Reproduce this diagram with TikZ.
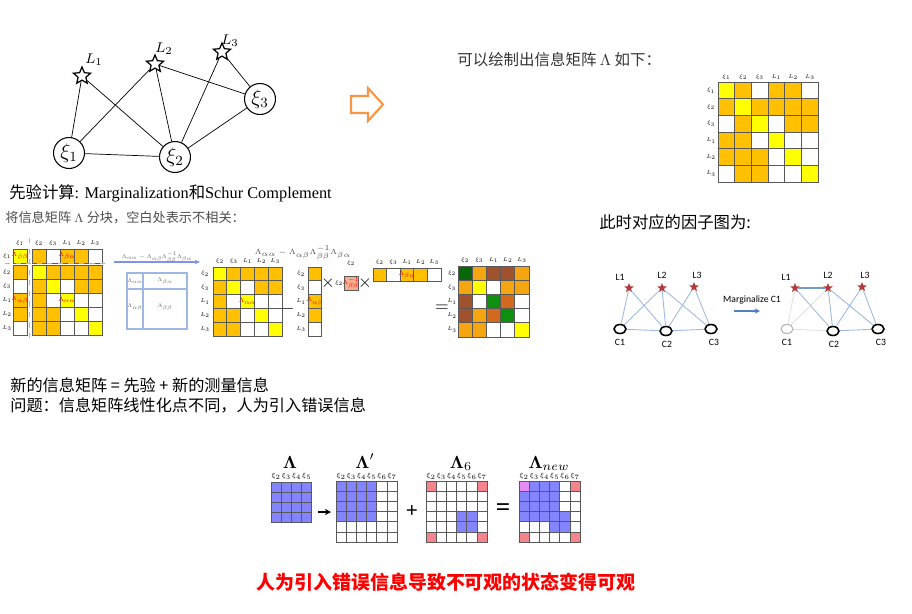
\documentclass[tikz,border=0pt]{standalone}
\usepackage{amsmath}
\usepackage{amssymb}
\usepackage{fontspec}
\usepackage{tikz}
\usetikzlibrary{shapes.geometric,arrows.meta}
\setmainfont{Liberation Serif}
\newfontfamily\cjk{Noto Sans CJK SC}
\newfontfamily\carl{Carlito}

\definecolor{yel}{HTML}{FFFF00}
\definecolor{ora}{HTML}{FFC000}
\definecolor{orb}{HTML}{F5A50F}
\definecolor{wht}{HTML}{FFFFFF}
\definecolor{dgr}{HTML}{0B650B}
\definecolor{grn}{HTML}{0E8F0E}
\definecolor{brn}{HTML}{A0522D}
\definecolor{dor}{HTML}{D2691E}
\definecolor{blu}{HTML}{8484FF}
\definecolor{pnk}{HTML}{F4858F}
\definecolor{vio}{HTML}{E38CF4}
\definecolor{sal}{HTML}{F7AE8E}
\definecolor{arrorange}{HTML}{F79646}
\definecolor{starred}{HTML}{B23A3A}
\definecolor{fblue}{HTML}{9DB8E2}
\definecolor{mblue}{HTML}{4F81BD}

\tikzset{
  gridline/.style={draw=black!65, line width=0.55pt},
  hdr/.style={font=\tiny, scale=0.62, inner sep=0pt},
  redlab/.style={font=\tiny, text=red, scale=0.7, inner sep=0pt},
  mtitle/.style={inner sep=0pt, anchor=base},
  pose/.style={circle, draw, line width=0.6pt, minimum size=0.62cm, inner sep=0pt, font=\large},
  lmk/.style={star, star points=5, star point ratio=2.2, draw, line width=0.7pt, fill=white, minimum size=0.36cm, inner sep=0pt},
  fstar/.style={star, star points=5, star point ratio=2.3, fill=starred, minimum size=0.2cm, inner sep=0pt},
  fcam/.style={ellipse, draw, line width=0.9pt, minimum width=0.24cm, minimum height=0.18cm, inner sep=0pt},
  fedge/.style={draw=fblue, line width=0.5pt},
  fgone/.style={draw=black!12, line width=0.5pt},
  flab/.style={font=\carl\fontsize{5.5}{6}\selectfont, inner sep=0pt}
}

% colour grid: left x, top y, cell size, rows of colours
\newcommand{\cellgrid}[4]{%
  \foreach \cellrow [count=\ri] in {#4} {
    \foreach \cellcol [count=\ci] in \cellrow {
      \draw[gridline, fill=\cellcol] ({#1+(\ci-1)*#3},{#2+(\ri-1)*#3}) rectangle ++(#3,#3);
    }
  }%
}

\begin{document}
\begin{tikzpicture}[x=0.02cm, y=-0.02cm]
\useasboundingbox (0,0) rectangle (912,613);

%% graph at top left
\node[pose] (x1) at (69,153) {$\xi_1$};
\node[pose] (x2) at (175,157) {$\xi_2$};
\node[pose] (x3) at (260,99) {$\xi_3$};
\node[lmk] (l1) at (82,76) {};
\node[lmk] (l2) at (155,64) {};
\node[lmk] (l3) at (222,52) {};
\node[font=\footnotesize] (l1t) at (94,60) {$L_1$};
\node[font=\footnotesize] (l2t) at (164,49) {$L_2$};
\node[font=\footnotesize] (l3t) at (230,41) {$L_3$};
\draw[line width=0.4pt] (l1) -- (x1);
\draw[line width=0.4pt] (l1) -- (x2);
\draw[line width=0.4pt] (l2) -- (x1);
\draw[line width=0.4pt] (l2) -- (x2);
\draw[line width=0.4pt] (l2) -- (x3);
\draw[line width=0.4pt] (l3) -- (x2);
\draw[line width=0.4pt] (l3) -- (x3);
\draw[line width=0.4pt] (x1) -- (x2);
\draw[line width=0.4pt] (x2) -- (x3);

% hollow arrow
\draw[arrorange, line width=1.2pt, fill=white, line join=miter]
  (351,96) -- (368,96) -- (368,88) -- (383,104.5) -- (368,121) -- (368,113) -- (351,113) -- cycle;

%% texts
\node[anchor=west, font=\fontsize{9.3}{11}\selectfont, inner sep=0pt] (tschur) at (9,193)
  {{\cjk 先验计算}: Marginalization{\cjk 和}Schur Complement};
\node[anchor=west, text=black!70, font=\cjk\fontsize{7.5}{9}\selectfont, inner sep=0pt] (tsplit) at (5,218)
  {将信息矩阵 $\Lambda$ 分块，空白处表示不相关：};
\node[anchor=west, text=black!80, font=\cjk\fontsize{8.8}{10}\selectfont, inner sep=0pt] (tdraw) at (457,60)
  {可以绘制出信息矩阵 $\Lambda$ 如下：};
\node[anchor=west, font=\cjk\fontsize{9.3}{11}\selectfont, inner sep=0pt] (tfactor) at (599,222)
  {此时对应的因子图为:};

%% full information matrix (top right)
\cellgrid{718}{82}{16.7}{{yel,ora,wht,ora,ora,wht},{ora,yel,ora,ora,ora,ora},{wht,ora,yel,wht,ora,ora},{ora,ora,wht,yel,wht,wht},{ora,ora,ora,wht,yel,wht},{wht,ora,ora,wht,wht,yel}}
\foreach \lab [count=\j] in {\xi_1,\xi_2,\xi_3,L_1,L_2,L_3} {
  \node[hdr] (tc\j) at ({718+8.35+(\j-1)*16.7},77) {$\lab$};
  \node[hdr] (tr\j) at (711,{82+8.35+(\j-1)*16.7}) {$\lab$};
}

%% factor graph before marginalization
\node[fstar] (fl1) at (629,288) {};
\node[fstar] (fl2) at (662,288) {};
\node[fstar] (fl3) at (694,287) {};
\node[fcam] (fc1) at (620,329) {};
\node[fcam] (fc2) at (666,331) {};
\node[fcam] (fc3) at (711,329) {};
\foreach \a/\b in {fl1/fc1,fl1/fc2,fl2/fc1,fl2/fc2,fl2/fc3,fl3/fc2,fl3/fc3,fc1/fc2,fc2/fc3}
  \draw[fedge] (\a) -- (\b);
\node[flab] (fl1t) at (620,277) {L1};
\node[flab] (fl2t) at (662,275) {L2};
\node[flab] (fl3t) at (697,275) {L3};
\node[flab] (fc1t) at (620,342) {C1};
\node[flab] (fc2t) at (667,344) {C2};
\node[flab] (fc3t) at (714,342) {C3};

% marginalize arrow
\node[flab] (margt) at (752,300) {Marginalize C1};
\coordinate (ma) at (734,311);
\coordinate (mb) at (760,311);
\draw[mblue, line width=1.1pt, -{Stealth[length=3pt,width=3pt]}] (ma) -- (mb);

%% factor graph after marginalization
\node[fstar] (gl1) at (795,288) {};
\node[fstar] (gl2) at (828,288) {};
\node[fstar] (gl3) at (862,287) {};
\node[fcam, draw=black!30, line width=0.6pt] (gc1) at (787,329) {};
\node[fcam] (gc2) at (833,331) {};
\node[fcam] (gc3) at (878,329) {};
\foreach \a/\b in {gl1/gc1,gl2/gc1,gc1/gc2}
  \draw[fgone] (\a) -- (\b);
\foreach \a/\b in {gl1/gc2,gl2/gc2,gl2/gc3,gl3/gc2,gl3/gc3,gc2/gc3}
  \draw[fedge] (\a) -- (\b);
\draw[mblue!80, line width=1.3pt] (gl1) -- (gl2);
\node[flab] (gl1t) at (786,277) {L1};
\node[flab] (gl2t) at (828,275) {L2};
\node[flab] (gl3t) at (865,275) {L3};
\node[flab] (gc1t) at (787,342) {C1};
\node[flab] (gc2t) at (834,344) {C2};
\node[flab] (gc3t) at (881,342) {C3};

%% split information matrix
\cellgrid{13}{249}{14}{{yel}}
\cellgrid{32}{249}{14}{{ora,wht,ora,ora,wht}}
\cellgrid{13}{265}{14}{{ora},{wht},{ora},{ora},{wht}}
\cellgrid{32}{265}{14}{{yel,ora,ora,ora,ora},{ora,yel,wht,ora,ora},{ora,wht,yel,wht,wht},{ora,ora,wht,yel,wht},{ora,ora,wht,wht,yel}}
\draw[fblue, dashed, line width=0.8pt] (5,263.5) -- (108,263.5);
\draw[fblue, dashed, line width=0.8pt] (29.5,238) -- (29.5,340);
\node[hdr] (sc1) at (20,243) {$\xi_1$};
\node[hdr] (sr1) at (7,256) {$\xi_1$};
\foreach \lab [count=\j] in {\xi_2,\xi_3,L_1,L_2,L_3} {
  \node[hdr] (sc\j) at ({39+(\j-1)*14},243) {$\lab$};
  \node[hdr] (sr\j) at (7,{272+(\j-1)*14}) {$\lab$};
}
\node[redlab] (sbb) at (20,256) {$\Lambda_{\beta\beta}$};
\node[redlab] (sba) at (67,256) {$\Lambda_{\beta\alpha}$};
\node[redlab] (sab) at (20,300) {$\Lambda_{\alpha\beta}$};
\node[redlab] (saa) at (67,300) {$\Lambda_{\alpha\alpha}$};

% schur arrow and block sketch
\coordinate (sa) at (114,262);
\coordinate (sb) at (200,262);
\draw[fblue!80!blue, line width=0.6pt, -{Stealth[length=3pt,width=2.5pt]}] (sa) -- (sb);
\node[hdr, text=black!60] (stxt) at (157,257) {$\Lambda_{\alpha\alpha}-\Lambda_{\alpha\beta}\Lambda_{\beta\beta}^{-1}\Lambda_{\beta\alpha}$};
\draw[fblue, line width=0.6pt] (127,273) rectangle (187,329);
\draw[fblue, line width=0.6pt] (143,273) -- (143,329);
\draw[fblue, line width=0.6pt] (127,289) -- (187,289);
\node[hdr, text=black!60] (q1) at (135,281) {$\Lambda_{\alpha\alpha}$};
\node[hdr, text=black!60] (q2) at (165,281) {$\Lambda_{\beta\alpha}$};
\node[hdr, text=black!60] (q3) at (135,307) {$\Lambda_{\alpha\beta}$};
\node[hdr, text=black!60] (q4) at (165,307) {$\Lambda_{\beta\beta}$};

%% schur complement terms
\node[font=\tiny, scale=0.85, inner sep=0pt, text=black!70] (btitle) at (303,253) {$\Lambda_{\alpha\alpha}-\Lambda_{\alpha\beta}\Lambda_{\beta\beta}^{-1}\Lambda_{\beta\alpha}$};
\cellgrid{213}{267}{13.8}{{yel,ora,ora,ora,ora},{ora,yel,wht,ora,ora},{ora,wht,yel,wht,wht},{ora,ora,wht,yel,wht},{ora,ora,wht,wht,yel}}
\foreach \lab [count=\j] in {\xi_2,\xi_3,L_1,L_2,L_3} {
  \node[hdr] (bc\j) at ({219.9+(\j-1)*13.8},261) {$\lab$};
  \node[hdr] (br\j) at (205,{273.9+(\j-1)*13.8}) {$\lab$};
  \node[hdr] (vr\j) at (301,{273.9+(\j-1)*13.8}) {$\lab$};
  \node[hdr] (hc\j) at ({379.8+(\j-1)*13.6},262) {$\lab$};
  \node[hdr] (rc\j) at ({465.1+(\j-1)*14.2},260) {$\lab$};
  \node[hdr] (rr\j) at (452,{273.1+(\j-1)*14.2}) {$\lab$};
}
\node[redlab] (baa) at (247.5,301.5) {$\Lambda_{\alpha\alpha}$};
\node[font=\normalsize, inner sep=0pt] (minus) at (288,309) {$-$};
\cellgrid{308}{267}{13.8}{{ora},{wht},{ora},{ora},{wht}}
\node[redlab] (vab) at (314.9,301.5) {$\Lambda_{\alpha\beta}$};
\node[font=\normalsize, inner sep=0pt] (times1) at (328,283) {$\times$};
\node[hdr] (kx) at (339,283) {$\xi_2$};
\node[hdr] (kc) at (351,263) {$\xi_2$};
\draw[gridline, fill=sal] (344,276) rectangle (358,290);
\node[redlab] (kinv) at (351,283) {$\Lambda_{\beta\beta}^{-1}$};
\node[font=\normalsize, inner sep=0pt] (times2) at (365,283) {$\times$};
\cellgrid{373}{268}{13.6}{{ora,wht,ora,ora,wht}}
\node[redlab] (hba) at (407,274.8) {$\Lambda_{\beta\alpha}$};
\node[font=\normalsize, inner sep=0pt] (eq1) at (442,308) {$=$};
\cellgrid{458}{266}{14.2}{{dgr,orb,brn,brn,orb},{orb,yel,wht,orb,orb},{brn,wht,grn,dor,wht},{brn,orb,dor,grn,wht},{orb,orb,wht,wht,yel}}

%% text lines
\node[anchor=west, font=\cjk\fontsize{9.2}{11}\selectfont, inner sep=0pt] (tnew) at (10,385)
  {新的信息矩阵 = 先验 + 新的测量信息};
\node[anchor=west, font=\cjk\fontsize{9.2}{11}\selectfont, inner sep=0pt] (tprob) at (10,405)
  {问题：信息矩阵线性化点不同，人为引入错误信息};

%% bottom matrices
\node[mtitle] (nl) at (290,468) {$\boldsymbol{\Lambda}$};
\cellgrid{271}{482}{10.2}{{blu,blu,blu,blu},{blu,blu,blu,blu},{blu,blu,blu,blu},{blu,blu,blu,blu}}
\foreach \lab [count=\j] in {\xi_2,\xi_3,\xi_4,\xi_5}
  \node[hdr, scale=1.2] (nlc\j) at ({276.1+(\j-1)*10.2},476) {$\lab$};
\coordinate (pa) at (318,512);
\coordinate (pb) at (331,512);
\draw[line width=1pt, -{Stealth[length=3.5pt,width=3.5pt]}] (pa) -- (pb);

\node[mtitle] (np) at (365,468) {$\boldsymbol{\Lambda}'$};
\cellgrid{336}{481}{10.2}{{blu,blu,blu,blu,wht,wht},{blu,blu,blu,blu,wht,wht},{blu,blu,blu,blu,wht,wht},{blu,blu,blu,blu,wht,wht},{wht,wht,wht,wht,wht,wht},{wht,wht,wht,wht,wht,wht}}
\node[font=\large\bfseries, inner sep=0pt] (plus) at (412,512) {+};

\node[mtitle] (n6) at (461,468) {$\boldsymbol{\Lambda}_6$};
\cellgrid{426}{481}{10.2}{{pnk,wht,wht,wht,wht,pnk},{wht,wht,wht,wht,wht,wht},{wht,wht,wht,wht,wht,wht},{wht,wht,wht,blu,blu,wht},{wht,wht,wht,blu,blu,wht},{pnk,wht,wht,wht,wht,pnk}}
\node[font=\Large\bfseries, inner sep=0pt] (eq2) at (503,510) {=};

\node[mtitle] (nn) at (549,468) {$\boldsymbol{\Lambda}_{new}$};
\cellgrid{519}{481}{10.2}{{vio,blu,blu,blu,wht,pnk},{blu,blu,blu,blu,wht,wht},{blu,blu,blu,blu,wht,wht},{blu,blu,blu,blu,blu,wht},{wht,wht,wht,blu,blu,wht},{pnk,wht,wht,wht,wht,pnk}}
\foreach \lab [count=\j] in {\xi_2,\xi_3,\xi_4,\xi_5,\xi_6,\xi_7} {
  \node[hdr, scale=1.2] (npc\j) at ({341.1+(\j-1)*10.2},476) {$\lab$};
  \node[hdr, scale=1.2] (n6c\j) at ({431.1+(\j-1)*10.2},476) {$\lab$};
  \node[hdr, scale=1.2] (nnc\j) at ({524.1+(\j-1)*10.2},476) {$\lab$};
}

\node[font=\cjk\bfseries\fontsize{10.8}{13}\selectfont, text=red, inner sep=0pt] (tconc) at (446,582)
  {人为引入错误信息导致不可观的状态变得可观};
\end{tikzpicture}
\end{document}
